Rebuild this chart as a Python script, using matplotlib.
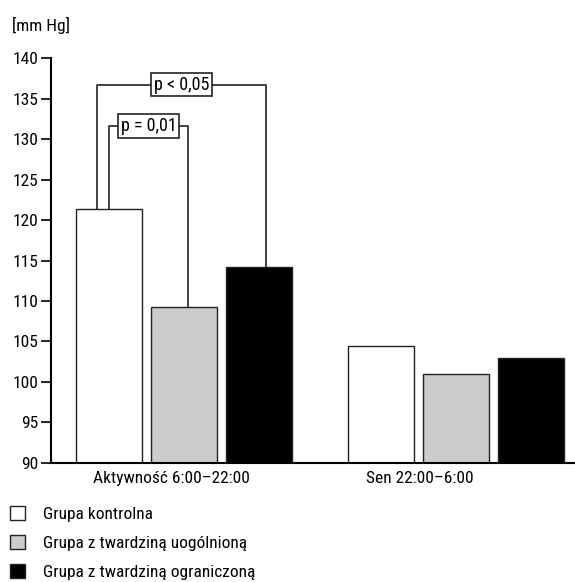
import numpy as np
import matplotlib.pyplot as plt
from matplotlib.patches import Patch

plt.rcParams['font.family'] = ['Roboto Condensed', 'Liberation Sans Narrow',
                               'Liberation Sans', 'DejaVu Sans']

groups = ['Aktywność 6:00–22:00', 'Sen 22:00–6:00']
series = ['Grupa kontrolna', 'Grupa z twardziną uogólnioną', 'Grupa z twardziną ograniczoną']
values = [[121.3, 104.5],   # kontrolna
          [109.2, 101.0],   # uogólniona
          [114.2, 103.0]]   # ograniczona
colors = ['white', '#cccccc', 'black']
yticks = np.arange(90, 141, 5)

# significance brackets: (bar a, bar b, top value, label)
brackets = [(0, 1, 131.6, 'p = 0,01'), (0, 2, 136.7, 'p < 0,05')]

fs = 12.5

fig = plt.figure(figsize=(5.75, 5.82), dpi=100)
ax = fig.add_axes([0.0887, 0.2045, 0.9113, 0.6958])

x = np.arange(len(groups))
w = 0.243
step = 0.276
for i, (vals, c) in enumerate(zip(values, colors)):
    ax.bar(x + (i - 1) * step, np.array(vals) - 90, bottom=90, width=w,
           color=c, edgecolor='#222222', linewidth=1.0, zorder=2)

# brackets over the first group
leg_shift = {(0, 1): (0.0, 0.014), (0, 2): (-0.045, 0.025)}
for a, b, top, lab in brackets:
    da, db = leg_shift[(a, b)]
    xa = x[0] + (a - 1) * step + da
    xb = x[0] + (b - 1) * step + db
    ya = values[a][0]
    yb = values[b][0]
    ax.plot([xa, xa, xb, xb], [ya, top, top, yb], color='#333333', lw=1.3, zorder=1)
    ax.text((xa + xb) / 2, top, lab, ha='center', va='center', fontsize=13,
            bbox=dict(boxstyle='square,pad=0.15', fc='white', ec='#222222', lw=1.2), zorder=3)

ax.set_xlim(-0.489, 1.4375)
ax.set_ylim(90, 140)
ax.set_yticks(yticks)
ax.set_xticks(x - np.array([0.048, 0.132]))
ax.set_xticklabels(groups, fontsize=fs)
ax.tick_params(axis='x', length=0, pad=6)
ax.tick_params(axis='y', length=7, width=1.2, labelsize=fs, pad=2)
for s in ['top', 'right']:
    ax.spines[s].set_visible(False)
for s in ['left', 'bottom']:
    ax.spines[s].set_linewidth(1.5)

fig.text(0.021, 0.957, '[mm Hg]', fontsize=fs, va='center', ha='left')

handles = [Patch(facecolor=c, edgecolor='#222222', linewidth=1.0) for c in colors]
fig.legend(handles, series, loc='upper left', bbox_to_anchor=(0.0, 0.148),
           frameon=False, fontsize=fs, handlelength=0.85, handleheight=0.85,
           handletextpad=1.0, labelspacing=0.75, borderaxespad=0.2)

fig.savefig('out.png', dpi=100)
